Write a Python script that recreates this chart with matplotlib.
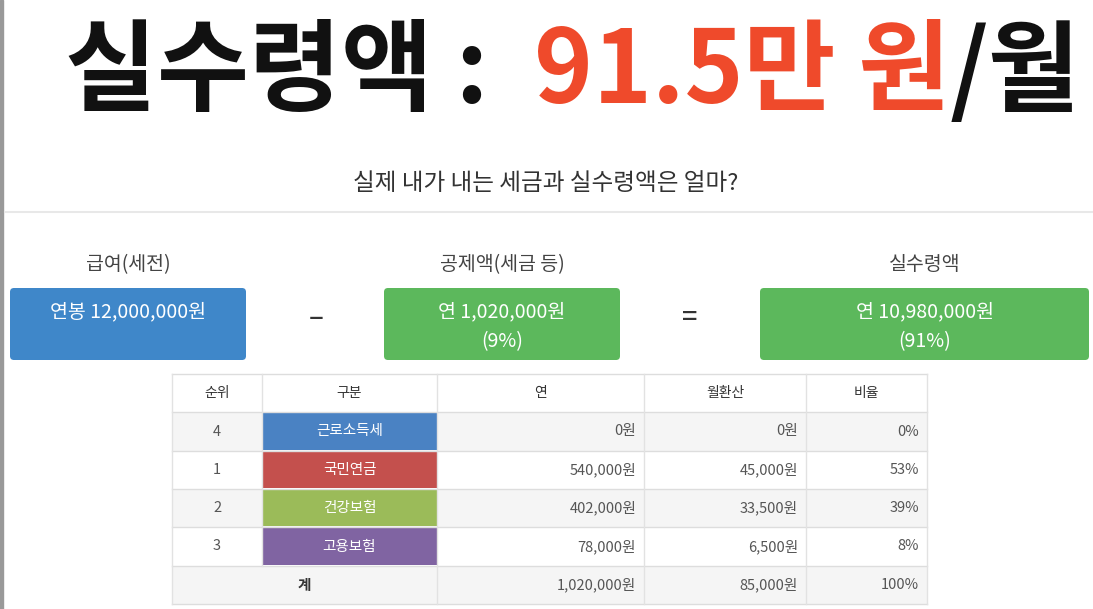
#!/usr/bin/env python3
"""Take-home pay infographic: salary minus deductions, with breakdown table."""

import matplotlib
matplotlib.use("Agg")
import matplotlib.pyplot as plt
from matplotlib.patches import Rectangle, FancyBboxPatch

plt.rcParams["font.family"] = "Noto Sans CJK KR"

# data
net_monthly = "91.5만 원"
gross_label = "연봉 12,000,000원"
deduct_label = ["연 1,020,000원", "(9%)"]
net_label = ["연 10,980,000원", "(91%)"]

ranks = ["4", "1", "2", "3"]
items = ["근로소득세", "국민연금", "건강보험", "고용보험"]
yearly = ["0원", "540,000원", "402,000원", "78,000원"]
monthly = ["0원", "45,000원", "33,500원", "6,500원"]
ratios = ["0%", "53%", "39%", "8%"]
total = ["1,020,000원", "85,000원", "100%"]
item_colors = ["#4a82c3", "#c4504d", "#9bbb59", "#8064a2"]

W, H = 1093, 609
fig = plt.figure(figsize=(W / 100, H / 100), dpi=100)
ax = fig.add_axes([0, 0, 1, 1])
ax.set_xlim(0, W)
ax.set_ylim(H, 0)
ax.axis("off")
ax.add_patch(Rectangle((0, 0), 3, H, color="#999999"))

# big headline, drawn piece by piece
fig.canvas.draw()
r = fig.canvas.get_renderer()
x = 65
for s, c in [("실수령액 :  ", "#111111"), (net_monthly, "#ef4a2b"), ("/월", "#111111")]:
    t = ax.text(x, 74, s, fontsize=72, fontweight="bold", color=c,
                ha="left", va="center")
    bb = t.get_window_extent(renderer=r)
    x += bb.width

ax.text(546, 183, "실제 내가 내는 세금과 실수령액은 얼마?", fontsize=17,
        color="#333333", ha="center", va="center")
ax.plot([5, 1093], [212, 212], color="#e8e8e8", lw=1.5)

# formula boxes
boxes = [
    (10, 246, "급여(세전)", [gross_label], "#3f87c9"),
    (384, 620, "공제액(세금 등)", deduct_label, "#5cb85c"),
    (760, 1089, "실수령액", net_label, "#5cb85c"),
]
for x0, x1, head, lines, col in boxes:
    cx = (x0 + x1) / 2
    ax.text(cx, 265, head, fontsize=14, color="#444444", ha="center", va="center")
    ax.add_patch(FancyBboxPatch((x0, 288), x1 - x0, 72,
                                boxstyle="round,pad=0,rounding_size=4",
                                fc=col, ec="none"))
    ys = [312] if len(lines) == 1 else [312, 342]
    for y, s in zip(ys, lines):
        ax.text(cx, y, s, fontsize=14, color="white", ha="center", va="center")
ax.text(316, 318, "–", fontsize=20, color="#333333", ha="center", va="center")
ax.text(690, 318, "=", fontsize=20, color="#333333", ha="center", va="center")

# table
cols = [172, 262, 437, 644, 806, 927]
rows = [374, 412, 451, 489, 527, 566, 604]
headers = ["순위", "구분", "연", "월환산", "비율"]
for i in range(len(rows) - 1):
    fc = "#f5f5f5" if i % 2 == 1 or i == 5 else "white"
    ax.add_patch(Rectangle((cols[0], rows[i]), cols[-1] - cols[0],
                           rows[i + 1] - rows[i], fc=fc, ec="none"))
for y in rows:
    ax.plot([cols[0], cols[-1]], [y, y], color="#dddddd", lw=1)
for j, xv in enumerate(cols):
    y1 = rows[-2] if j == 1 else rows[-1]
    ax.plot([xv, xv], [rows[0], y1], color="#e2e2e2", lw=1)

for j, h in enumerate(headers):
    ax.text((cols[j] + cols[j + 1]) / 2, (rows[0] + rows[1]) / 2, h,
            fontsize=10, color="#333333", ha="center", va="center")

fs = 10.5
for i in range(len(items)):
    yc = (rows[i + 1] + rows[i + 2]) / 2
    ax.add_patch(Rectangle((cols[1], rows[i + 1] + 1), cols[2] - cols[1],
                           rows[i + 2] - rows[i + 1] - 2, fc=item_colors[i], ec="none"))
    ax.text((cols[0] + cols[1]) / 2, yc, ranks[i], fontsize=fs, color="#555555",
            ha="center", va="center")
    ax.text((cols[1] + cols[2]) / 2, yc, items[i], fontsize=fs, color="white",
            ha="center", va="center")
    for j, v in zip([3, 4, 5], [yearly[i], monthly[i], ratios[i]]):
        ax.text(cols[j] - 8, yc, v, fontsize=fs, color="#555555",
                ha="right", va="center")

yc = (rows[-2] + rows[-1]) / 2
ax.text((cols[0] + cols[2]) / 2, yc, "계", fontsize=fs, fontweight="bold",
        color="#333333", ha="center", va="center")
for j, v in zip([3, 4, 5], total):
    ax.text(cols[j] - 8, yc, v, fontsize=fs, color="#555555", ha="right", va="center")

fig.savefig("out.png", dpi=100)
